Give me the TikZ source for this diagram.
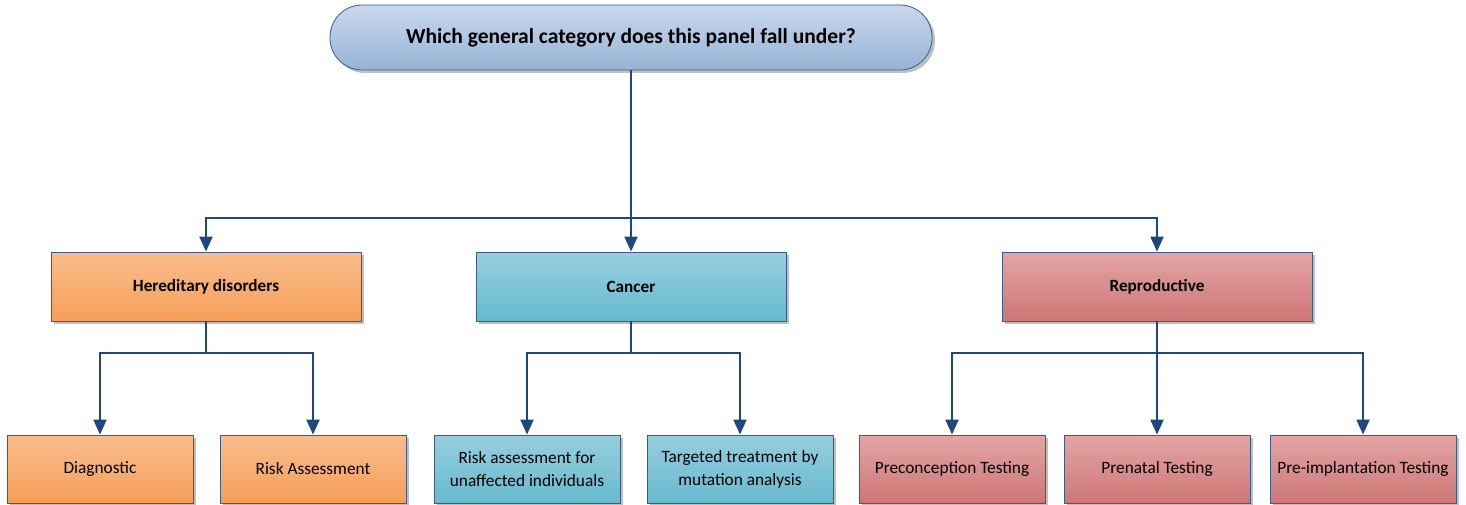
\documentclass[tikz,border=0pt]{standalone}
\usepackage{fontspec}
\setmainfont{Carlito}
\usetikzlibrary{arrows.meta, shadows}

\definecolor{edgeblue}{HTML}{3B5C88}
\definecolor{linkblue}{HTML}{1F497D}
\definecolor{qtop}{HTML}{C8D8EC}
\definecolor{qbot}{HTML}{98B3D6}
\definecolor{otop}{HTML}{FABD8E}
\definecolor{obot}{HTML}{F59F58}
\definecolor{ctop}{HTML}{96CFDE}
\definecolor{cbot}{HTML}{67B9CE}
\definecolor{rtop}{HTML}{E3A5A5}
\definecolor{rbot}{HTML}{CE7676}

\tikzset{
  boxbase/.style={draw=edgeblue, line width=0.8pt, align=center,
    inner sep=2pt,
    drop shadow={shadow xshift=3pt, shadow yshift=-3pt, fill=black!50, opacity=0.5}},
  question/.style={boxbase, rounded corners=32pt, minimum width=602pt,
    minimum height=65pt, top color=qtop, bottom color=qbot,
    font=\fontsize{21.5}{25}\selectfont\bfseries},
  groupbox/.style={boxbase, minimum width=310pt, minimum height=69pt,
    font=\fontsize{17.2}{20}\selectfont\bfseries},
  leafbox/.style={boxbase, minimum width=186pt, minimum height=68pt,
    font=\fontsize{17.3}{23}\selectfont},
  orangefill/.style={top color=otop, bottom color=obot},
  cyanfill/.style={top color=ctop, bottom color=cbot},
  rosefill/.style={top color=rtop, bottom color=rbot},
  link/.style={draw=linkblue, line width=2pt},
  arr/.style={link, -{Triangle[width=13pt,length=15pt]}},
}

\begin{document}
\begin{tikzpicture}[x=1pt, y=-1pt]
  \useasboundingbox (0,0) rectangle (1466,505);

  % --- Question ---
  \node[question] (q) at (631,37.5) {Which general category does this panel fall under?};

  % --- Categories ---
  \node[groupbox, orangefill] (hered) at (206,286.5) {Hereditary disorders};
  \node[groupbox, cyanfill] (cancer) at (631,286.5) {Cancer};
  \node[groupbox, rosefill] (repro) at (1157,286.5) {Reproductive};

  % --- Leaves ---
  \node[leafbox, orangefill] (diag) at (100,469) {Diagnostic};
  \node[leafbox, orangefill] (riskas) at (313,469) {Risk Assessment};
  \node[leafbox, cyanfill] (unaff) at (527,469) {Risk assessment for\\unaffected individuals};
  \node[leafbox, cyanfill] (target) at (740,469) {Targeted treatment by\\mutation analysis};
  \node[leafbox, rosefill] (precon) at (952,469) {Preconception Testing};
  \node[leafbox, rosefill] (prenat) at (1157,469) {Prenatal Testing};
  \node[leafbox, rosefill] (preimp) at (1363,469) {Pre-implantation Testing};

  % --- Connectors ---
  \coordinate (hub) at (631,218);
  \draw[link] (q.south) -- (hub);
  \draw[arr] (hub) -| (hered.north);
  \draw[arr] (hub) -- (cancer.north);
  \draw[arr] (hub) -| (repro.north);

  \coordinate (hubH) at (206,353);
  \draw[link] (hered.south) -- (hubH);
  \draw[arr] (hubH) -| (diag.north);
  \draw[arr] (hubH) -| (riskas.north);

  \coordinate (hubC) at (631,353);
  \draw[link] (cancer.south) -- (hubC);
  \draw[arr] (hubC) -| (unaff.north);
  \draw[arr] (hubC) -| (target.north);

  \coordinate (hubR) at (1157,353);
  \draw[link] (repro.south) -- (hubR);
  \draw[arr] (hubR) -| (precon.north);
  \draw[arr] (hubR) -- (prenat.north);
  \draw[arr] (hubR) -| (preimp.north);

\end{tikzpicture}
\end{document}
